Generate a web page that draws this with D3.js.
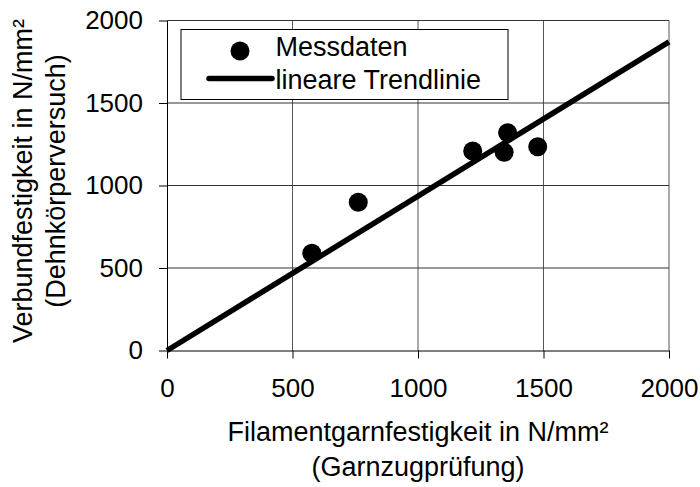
<!DOCTYPE html>
<html>
<head>
<meta charset="utf-8">
<script src="https://cdn.jsdelivr.net/npm/d3@7"></script>
<style>
  body { margin: 0; background: #fff; }
  text { font-family: "Liberation Sans", Arial, sans-serif; fill: #000; }
</style>
</head>
<body>
<div id="chart"></div>
<script>
// measured points (Filamentgarn vs Verbund)
const garnValues = [577, 762, 1218, 1343, 1357, 1477];
const verbundValues = [589, 898, 1209, 1201, 1320, 1235];
// linear trend through origin
const trendX = [0, 2000];
const trendY = [0, 1871];
const xTicks = [0, 500, 1000, 1500, 2000];
const yTicks = [0, 500, 1000, 1500, 2000];
const legendLabels = ["Messdaten", "lineare Trendlinie"];

const FONT = "26px";
const TITLE_FONT = "27px";

let margin = { left: 167, right: 31, top: 20.5, bottom: 136.5 };
let width = 700 - margin.left - margin.right;
let height = 487 - margin.top - margin.bottom;

let svg = d3.select("#chart")
  .append("svg")
  .attr("width", 700)
  .attr("height", 487)
  .append("g")
  .attr("transform", `translate(${margin.left},${margin.top})`);

let x = d3.scaleLinear().domain([0, 2000]).range([0, width]);
let y = d3.scaleLinear().domain([0, 2000]).range([height, 0]);

// grid
svg.append("g")
  .selectAll("line")
  .data(xTicks.slice(1))
  .join("line")
  .attr("x1", d => x(d)).attr("x2", d => x(d))
  .attr("y1", 0).attr("y2", height)
  .attr("stroke", "#555").attr("stroke-width", 1);

svg.append("g")
  .selectAll("line")
  .data(yTicks.slice(1))
  .join("line")
  .attr("x1", 0).attr("x2", width)
  .attr("y1", d => y(d)).attr("y2", d => y(d))
  .attr("stroke", "#333").attr("stroke-width", 1);

// axes
let xAxis = svg.append("g")
  .attr("transform", `translate(0,${height})`)
  .call(d3.axisBottom(x).tickValues(xTicks).tickFormat(d3.format("d"))
    .tickSize(8).tickPadding(20).tickSizeOuter(0));
let yAxis = svg.append("g")
  .call(d3.axisLeft(y).tickValues(yTicks).tickFormat(d3.format("d"))
    .tickSize(8).tickPadding(16).tickSizeOuter(0));

[xAxis, yAxis].forEach(a => {
  a.select(".domain").attr("stroke", "#000");
  a.selectAll(".tick line").attr("stroke", "#000");
  a.selectAll(".tick text")
    .style("font-family", "'Liberation Sans', Arial, sans-serif")
    .style("font-size", FONT)
    .attr("fill", "#000");
});

// trend line
svg.append("path")
  .datum(trendX.map((d, i) => [d, trendY[i]]))
  .attr("fill", "none")
  .attr("stroke", "#000")
  .attr("stroke-width", 5.5)
  .attr("d", d3.line().x(d => x(d[0])).y(d => y(d[1])));

// points
svg.append("g")
  .selectAll("circle")
  .data(garnValues.map((d, i) => [d, verbundValues[i]]))
  .join("circle")
  .attr("cx", d => x(d[0]))
  .attr("cy", d => y(d[1]))
  .attr("r", 9.5)
  .attr("fill", "#000");

// legend
let legend = svg.append("g").attr("transform", "translate(14,9)");
legend.append("rect")
  .attr("x", 0).attr("y", 0)
  .attr("width", 327).attr("height", 70)
  .attr("fill", "#fff").attr("stroke", "#000").attr("stroke-width", 1);
legend.append("circle").attr("cx", 59).attr("cy", 21.5).attr("r", 9.5).attr("fill", "#000");
legend.append("line")
  .attr("x1", 28).attr("x2", 91).attr("y1", 49).attr("y2", 49)
  .attr("stroke", "#000").attr("stroke-width", 5.5).attr("stroke-linecap", "round");
legend.append("text").attr("x", 94.5).attr("y", 26.5).style("font-size", TITLE_FONT).text(legendLabels[0]);
legend.append("text").attr("x", 94.5).attr("y", 59).style("font-size", TITLE_FONT).text(legendLabels[1]);

// axis titles
let xt = svg.append("text")
  .attr("transform", `translate(${width / 2},${height + 90})`)
  .style("text-anchor", "middle")
  .style("font-size", TITLE_FONT);
xt.append("tspan").attr("x", 0).attr("dy", 0).text("Filamentgarnfestigkeit in N/mm²");
xt.append("tspan").attr("x", 0).attr("dy", 35).text("(Garnzugprüfung)");

let yt = svg.append("text")
  .attr("transform", `translate(${31.7 - margin.left},${height / 2 - 4.5})rotate(-90)`)
  .style("text-anchor", "middle")
  .style("font-size", TITLE_FONT);
yt.append("tspan").attr("x", 0).attr("dy", 0).text("Verbundfestigkeit in N/mm²");
yt.append("tspan").attr("x", 0).attr("dy", 33.3).text("(Dehnkörperversuch)");
</script>
</body>
</html>
